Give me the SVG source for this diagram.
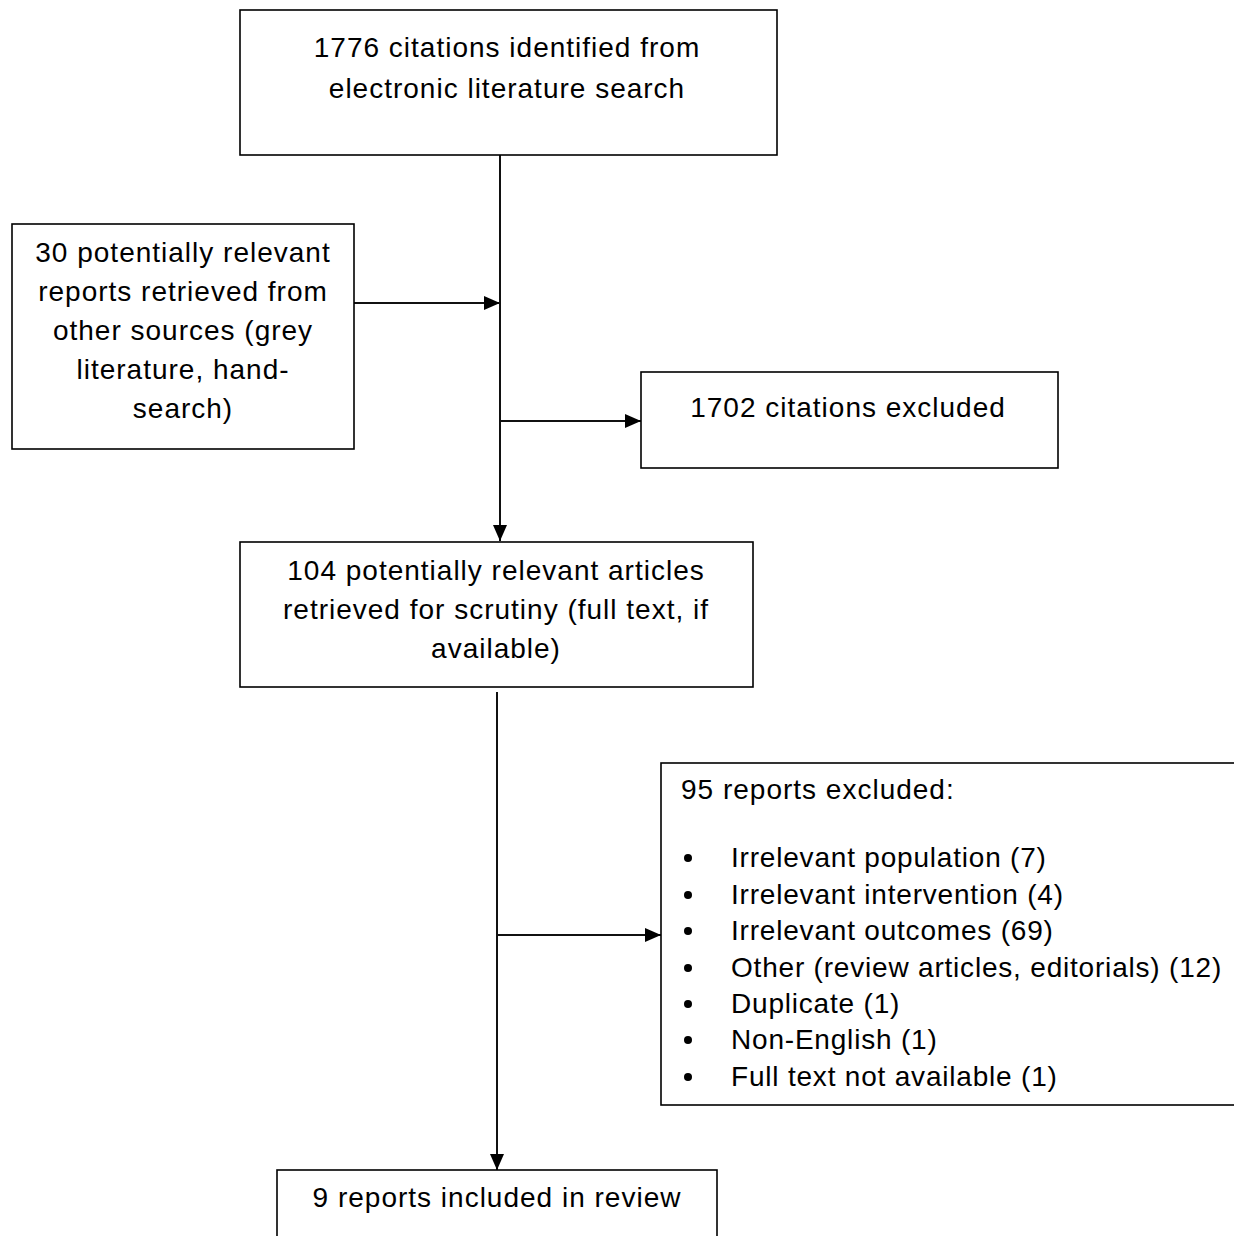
<svg xmlns="http://www.w3.org/2000/svg" width="1234" height="1236" viewBox="0 0 1234 1236">
<defs>
<marker id="arr" markerWidth="16" markerHeight="14" refX="16" refY="7" orient="auto" markerUnits="userSpaceOnUse">
<path d="M0,0 L16,7 L0,14 Z" fill="#000"/>
</marker>
</defs>
<style>
.box{fill:#fff;stroke:#000;stroke-width:1.6}
.t{font-family:"Liberation Sans",Arial,sans-serif;font-size:28px;fill:#000;letter-spacing:1px}
.l{letter-spacing:0.8px}
.c{text-anchor:middle}
.con{stroke:#111;stroke-width:2;fill:none;marker-end:url(#arr)}
</style>
<rect width="1234" height="1236" fill="#fff"/>
<g id="connectors">
<line class="con" x1="500" y1="155" x2="500" y2="541"/>
<line class="con" x1="354" y1="303" x2="500" y2="303"/>
<line class="con" x1="500" y1="421" x2="641" y2="421"/>
<line class="con" x1="497" y1="692" x2="497" y2="1170"/>
<line class="con" x1="497" y1="935" x2="661" y2="935"/>
</g>
<g id="n1">
<rect class="box" x="240" y="10" width="537" height="145"/>
<text class="t c" x="507" y="57">1776 citations identified from</text>
<text class="t c" x="507" y="98">electronic literature search</text>
</g>
<g id="n2">
<rect class="box" x="12" y="224" width="342" height="225"/>
<text class="t c" x="183" y="262">30 potentially relevant</text>
<text class="t c" x="183" y="301">reports retrieved from</text>
<text class="t c" x="183" y="340">other sources (grey</text>
<text class="t c" x="183" y="379">literature, hand-</text>
<text class="t c" x="183" y="418">search)</text>
</g>
<g id="n3">
<rect class="box" x="641" y="372" width="417" height="96"/>
<text class="t c" x="848" y="417">1702 citations excluded</text>
</g>
<g id="n4">
<rect class="box" x="240" y="542" width="513" height="145"/>
<text class="t c" x="496" y="580">104 potentially relevant articles</text>
<text class="t c" x="496" y="619">retrieved for scrutiny (full text, if</text>
<text class="t c" x="496" y="658">available)</text>
</g>
<g id="n5">
<rect class="box" x="661" y="763" width="600" height="342"/>
<text class="t" x="681" y="799">95 reports excluded:</text>
<g>
<circle cx="688" cy="858" r="4"/><text class="t l" x="731" y="867">Irrelevant population (7)</text>
<circle cx="688" cy="895" r="4"/><text class="t l" x="731" y="904">Irrelevant intervention (4)</text>
<circle cx="688" cy="931" r="4"/><text class="t l" x="731" y="940">Irrelevant outcomes (69)</text>
<circle cx="688" cy="968" r="4"/><text class="t l" x="731" y="977">Other (review articles, editorials) (12)</text>
<circle cx="688" cy="1004" r="4"/><text class="t l" x="731" y="1013">Duplicate (1)</text>
<circle cx="688" cy="1040" r="4"/><text class="t l" x="731" y="1049">Non-English (1)</text>
<circle cx="688" cy="1077" r="4"/><text class="t l" x="731" y="1086">Full text not available (1)</text>
</g>
</g>
<g id="n6">
<rect class="box" x="277" y="1170" width="440" height="100"/>
<text class="t c" x="497" y="1207">9 reports included in review</text>
</g>
</svg>
